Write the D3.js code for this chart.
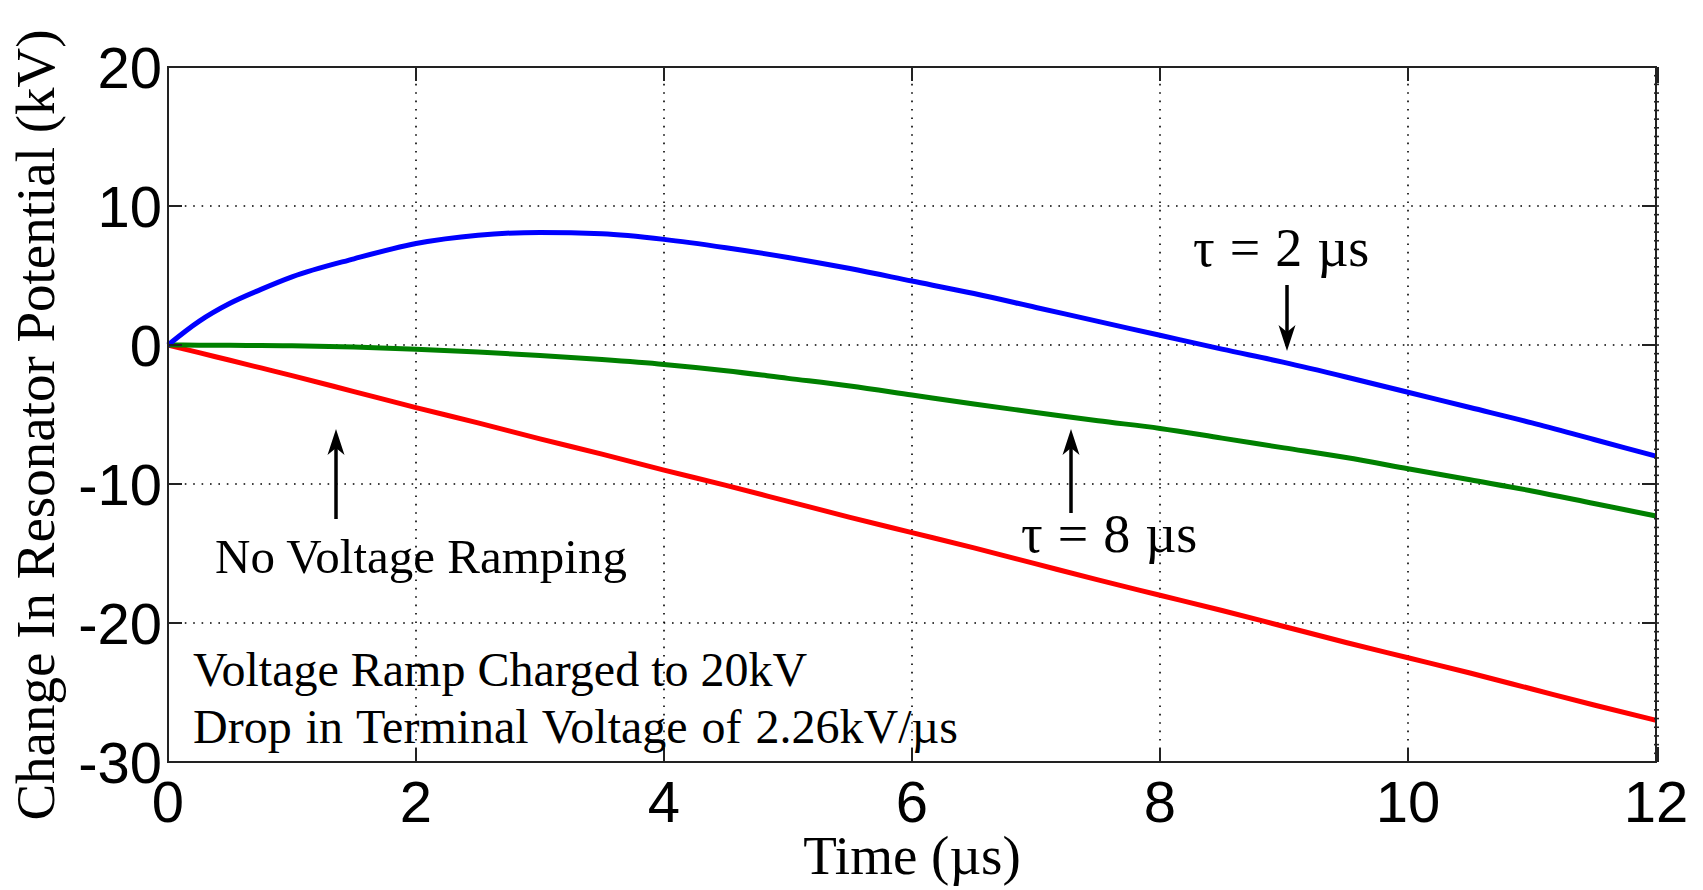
<!DOCTYPE html>
<html>
<head>
<meta charset="utf-8">
<script src="https://cdn.jsdelivr.net/npm/d3@7"></script>
<style>
  html, body { margin: 0; padding: 0; background: #fff; }
  svg { display: block; }
</style>
</head>
<body>
<svg id="chart" width="1703" height="890"></svg>
<script>
// Sample times (µs)
const time = [0, 0.25, 0.5, 0.75, 1, 1.5, 2, 2.5, 3, 3.5, 4, 4.5, 5, 5.5, 6, 6.5, 7, 7.5, 8, 8.5, 9, 9.5, 10, 10.5, 11, 11.5, 12];

// Change in resonator potential (kV) for each ramp case
const tau2us = [0, 1.7, 3.0, 4.0, 4.9, 6.2, 7.3, 7.9, 8.1, 8.0, 7.6, 7.0, 6.3, 5.5, 4.6, 3.7, 2.7, 1.7, 0.7, -0.3, -1.25, -2.3, -3.4, -4.5, -5.6, -6.8, -8.0];
const tau8us = [0, -0.01, -0.02, -0.04, -0.06, -0.15, -0.3, -0.5, -0.75, -1.05, -1.4, -1.85, -2.4, -2.95, -3.6, -4.25, -4.85, -5.45, -6.0, -6.7, -7.4, -8.1, -8.9, -9.7, -10.5, -11.4, -12.3];
const noRamp = [0, -0.55, -1.1, -1.65, -2.2, -3.35, -4.5, -5.6, -6.75, -7.85, -9.0, -10.1, -11.25, -12.4, -13.5, -14.6, -15.75, -16.9, -18.0, -19.1, -20.25, -21.4, -22.5, -23.6, -24.75, -25.9, -27.0];

// Axis ticks
const xTicks = [0, 2, 4, 6, 8, 10, 12];
const yTicks = [20, 10, 0, -10, -20, -30];
const xGrid = [2, 4, 6, 8, 10];
const yGrid = [10, 0, -10, -20];

const seriesList = [
  { name: "No Voltage Ramping", values: noRamp, color: "#ff0000" },
  { name: "τ = 8 µs", values: tau8us, color: "#008000" },
  { name: "τ = 2 µs", values: tau2us, color: "#0000ff" }
];

const L = 168, R = 1656, T = 67, B = 762;
const x = d3.scaleLinear().domain([0, 12]).range([L, R]);
const y = d3.scaleLinear().domain([-30, 20]).range([B, T]);

const svg = d3.select("#chart");
const serif = "'Liberation Serif', 'Times New Roman', serif";
const sans = "'Liberation Sans', Arial, sans-serif";

// Dotted grid
const grid = svg.append("g").attr("stroke", "#000").attr("stroke-width", 1.6)
  .attr("stroke-dasharray", "1.6,6.8");
grid.selectAll(".gx").data(xGrid).enter().append("line")
  .attr("x1", d => x(d)).attr("x2", d => x(d)).attr("y1", T).attr("y2", B);
grid.selectAll(".gy").data(yGrid).enter().append("line")
  .attr("x1", L).attr("x2", R).attr("y1", d => y(d)).attr("y2", d => y(d));

// Curves
const line = d3.line().x((d, i) => x(time[i])).y(d => y(d)).curve(d3.curveMonotoneX);
svg.append("g").selectAll("path").data(seriesList).enter().append("path")
  .attr("d", d => line(d.values))
  .attr("fill", "none")
  .attr("stroke", d => d.color)
  .attr("stroke-width", 5)
  .attr("stroke-linejoin", "round");

// Axis frame and ticks
const axes = svg.append("g").attr("stroke", "#222").attr("stroke-width", 2);
axes.append("rect").attr("x", L).attr("y", T).attr("width", R - L).attr("height", B - T).attr("fill", "none");
const tk = 14;
axes.selectAll(".tb").data(xTicks).enter().append("line")
  .attr("x1", d => x(d)).attr("x2", d => x(d)).attr("y1", B).attr("y2", B - tk);
axes.selectAll(".tt").data(xTicks).enter().append("line")
  .attr("x1", d => x(d)).attr("x2", d => x(d)).attr("y1", T).attr("y2", T + tk);
axes.selectAll(".tl").data(yTicks).enter().append("line")
  .attr("x1", L).attr("x2", L + tk).attr("y1", d => y(d)).attr("y2", d => y(d));
axes.selectAll(".tr").data(yTicks).enter().append("line")
  .attr("x1", R).attr("x2", R - tk).attr("y1", d => y(d)).attr("y2", d => y(d));

// Fine ticks along the right edge
const minorStep = 10 / 16;
const minor = d3.range(-30 + minorStep, 20, minorStep);
axes.selectAll(".tm").data(minor).enter().append("line")
  .attr("x1", R - 2).attr("x2", R + 3).attr("y1", d => y(d)).attr("y2", d => y(d))
  .attr("stroke-width", 1.6);
axes.append("line").attr("x1", R + 1).attr("x2", R + 1).attr("y1", T).attr("y2", T + 16).attr("stroke-width", 4);
axes.append("line").attr("x1", R + 1).attr("x2", R + 1).attr("y1", B - 15).attr("y2", B).attr("stroke-width", 4);

// Tick labels
svg.append("g").selectAll("text").data(xTicks).enter().append("text")
  .attr("x", d => x(d)).attr("y", 822)
  .attr("text-anchor", "middle")
  .attr("font-family", sans).attr("font-size", 58)
  .text(d => d);
svg.append("g").selectAll("text").data(yTicks).enter().append("text")
  .attr("x", 162).attr("y", d => y(d) + 21)
  .attr("text-anchor", "end")
  .attr("font-family", sans).attr("font-size", 58)
  .text(d => d);

// Axis titles
svg.append("text").attr("x", (L + R) / 2).attr("y", 874)
  .attr("text-anchor", "middle").attr("font-family", serif).attr("font-size", 55)
  .text("Time (µs)");
svg.append("text").attr("transform", "translate(54,425) rotate(-90)")
  .attr("text-anchor", "middle").attr("font-family", serif).attr("font-size", 55)
  .text("Change In Resonator Potential (kV)");

// Annotations
const note = (tx, ty, s, size, ws) => svg.append("text").attr("x", tx).attr("y", ty)
  .attr("font-family", serif).attr("font-size", size || 48)
  .attr("word-spacing", ws || 0).text(s);
note(193, 686, "Voltage Ramp Charged to 20kV");
note(193, 743, "Drop in Terminal Voltage of 2.26kV/µs", 48, 2);
note(215, 573, "No Voltage Ramping", 49);
note(1021, 552, "τ = 8 µs", 54, 1.5);
note(1193, 266, "τ = 2 µs", 54, 1.5);

// Arrows: (x, tail y, tip y)
function arrow(ax, y0, y1) {
  const dir = Math.sign(y1 - y0);
  const hl = 26, hw = 8.5, notch = 7;
  svg.append("line").attr("x1", ax).attr("x2", ax).attr("y1", y0).attr("y2", y1 - dir * hl * 0.6)
    .attr("stroke", "#000").attr("stroke-width", 3.5);
  svg.append("path")
    .attr("d", `M${ax},${y1} L${ax - hw},${y1 - dir * hl} L${ax},${y1 - dir * (hl - notch)} L${ax + hw},${y1 - dir * hl} Z`)
    .attr("fill", "#000");
}
arrow(336, 519, 429);
arrow(1071, 513, 429);
arrow(1287, 285, 351);
</script>
</body>
</html>
